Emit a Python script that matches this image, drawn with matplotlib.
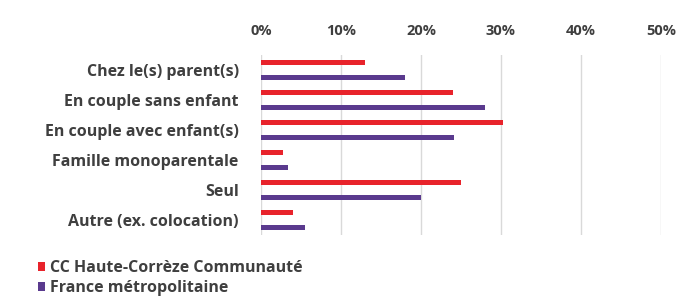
import numpy as np
import matplotlib.pyplot as plt

categories = ["Chez le(s) parent(s)", "En couple sans enfant", "En couple avec enfant(s)",
              "Famille monoparentale", "Seul", "Autre (ex. colocation)"]
cc_haute_correze = [13, 24, 30.2, 2.8, 25, 4]
france_metro = [18, 28, 24.1, 3.4, 20, 5.5]
series_names = ["CC Haute-Corrèze Communauté", "France métropolitaine"]
ticks = [0, 10, 20, 30, 40, 50]

red = "#E8232B"
purple = "#5A3A8E"
text_col = "#3F3F3F"

plt.rcParams['font.family'] = ['Open Sans', 'DejaVu Sans']

fig = plt.figure(figsize=(6.82, 3.0), dpi=100)
ax = fig.add_axes([261 / 682, 1 - 235 / 300, 400 / 682, 180 / 300])

y = np.arange(len(categories))
ax.barh(y - 0.25, cc_haute_correze, height=0.14, color=red, label=series_names[0], zorder=3)
ax.barh(y + 0.25, france_metro, height=0.16, color=purple, label=series_names[1], zorder=3)

ax.set_xlim(0, 50)
ax.set_ylim(5.5, -0.5)
ax.set_xticks(ticks)
ax.set_xticklabels([f"{t}%" for t in ticks], fontsize=10.5, fontweight='bold', color=text_col)
ax.xaxis.tick_top()
ax.tick_params(axis='x', length=0, pad=12)
ax.set_yticks(y)
ax.set_yticklabels(categories, fontsize=11.5, fontweight='bold', color=text_col)
ax.tick_params(axis='y', length=0, pad=16)
ax.grid(axis='x', color="#D9D9D9", linewidth=1, zorder=0)
for s in ax.spines.values():
    s.set_visible(False)

fig.legend(loc='lower left', bbox_to_anchor=(0.035, -0.035), frameon=False,
           handlelength=0.45, handleheight=0.45, handletextpad=0.3, labelspacing=0.25,
           prop={'size': 11.5, 'weight': 'bold'}, labelcolor=text_col)

fig.savefig("out.png", dpi=100)
